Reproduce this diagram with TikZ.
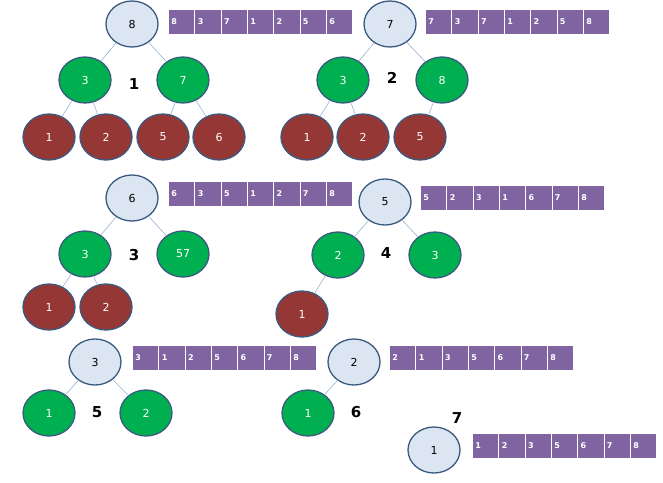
\documentclass[tikz,border=0pt]{standalone}
\usepackage{fontspec}
\setmainfont{DejaVu Sans}
\usetikzlibrary{shapes.geometric}
\begin{document}
\begin{tikzpicture}[x=1pt,y=-1pt,
 nd/.style={ellipse,draw=bd,line width=1.3pt,minimum width=52pt,minimum height=46pt,inner sep=0pt,font=\fontsize{11}{12}\selectfont},
 rt/.style={nd,fill=lt,text=black},
 gr/.style={nd,fill=gn,text=white},
 rd/.style={nd,fill=rdc,text=white},
 ed/.style={draw=edc,line width=0.6pt},
 lab/.style={font=\bfseries\fontsize{15}{16}\selectfont},
 cell/.style={draw=white,line width=0.6pt,fill=pp,minimum width=26.3pt,minimum height=25pt,inner sep=0pt,anchor=north west,text=white,font=\bfseries\fontsize{8}{9}\selectfont,align=left,text width=20pt}]
\definecolor{bd}{HTML}{3A5A80}\definecolor{lt}{HTML}{DCE6F2}
\definecolor{gn}{HTML}{00B050}\definecolor{rdc}{HTML}{953735}
\definecolor{edc}{HTML}{95B3D7}\definecolor{pp}{HTML}{8064A2}
\useasboundingbox (0,0) rectangle (663,482);
\newcommand{\arr}[4]{\foreach \v [count=\i from 0] in {#4} {\node[cell] (#1c\i) at (#2+\i*26.3,#3) {\v};}}
% tree 1
\node[rt] (a) at (132,24) {8};
\node[gr] (b) at (85,80) {3};\node[gr] (c) at (183,80) {7};
\node[rd] (d) at (49,137) {1};\node[rd] (e) at (106,137) {2};
\node[rd] (f) at (163,137) {5};\node[rd] (g) at (219,137) {6};
\draw[ed] (a)--(b) (a)--(c) (b)--(d) (b)--(e) (c)--(f) (c)--(g);
\node[lab] (l1) at (134,84) {1};
\arr{A}{168}{9}{8,3,7,1,2,5,6}
% tree 2
\node[rt] (a2) at (390,24) {7};
\node[gr] (b2) at (343,80) {3};\node[gr] (c2) at (442,80) {8};
\node[rd] (d2) at (307,137) {1};\node[rd] (e2) at (363,137) {2};\node[rd] (f2) at (420,137) {5};
\draw[ed] (a2)--(b2) (a2)--(c2) (b2)--(d2) (b2)--(e2) (c2)--(f2);
\node[lab] (l2) at (392,78) {2};
\arr{B}{425}{9}{7,3,7,1,2,5,8}
% tree 3
\node[rt] (a3) at (132,198) {6};
\node[gr] (b3) at (85,254) {3};\node[gr] (c3) at (183,254) {57};
\node[rd] (d3) at (49,307) {1};\node[rd] (e3) at (106,307) {2};
\draw[ed] (a3)--(b3) (a3)--(c3) (b3)--(d3) (b3)--(e3);
\node[lab] (l3) at (134,255) {3};
\arr{C}{168}{181}{6,3,5,1,2,7,8}
% tree 4
\node[rt] (a4) at (385,202) {5};
\node[gr] (b4) at (338,255) {2};\node[gr] (c4) at (435,255) {3};
\node[rd] (d4) at (302,314) {1};
\draw[ed] (a4)--(b4) (a4)--(c4) (b4)--(d4);
\node[lab] (l4) at (386,253) {4};
\arr{D}{420}{185}{5,2,3,1,6,7,8}
% tree 5
\node[rt] (a5) at (95,362) {3};
\node[gr] (b5) at (49,413) {1};\node[gr] (c5) at (146,413) {2};
\draw[ed] (a5)--(b5) (a5)--(c5);
\node[lab] (l5) at (97,412) {5};
\arr{E}{132}{345}{3,1,2,5,6,7,8}
% tree 6
\node[rt] (a6) at (354,362) {2};
\node[gr] (b6) at (308,413) {1};
\draw[ed] (a6)--(b6);
\node[lab] (l6) at (356,412) {6};
\arr{F}{389}{345}{2,1,3,5,6,7,8}
% tree 7
\node[rt] (a7) at (434,450) {1};
\node[lab] (l7) at (457,418) {7};
\arr{G}{472}{433}{1,2,3,5,6,7,8}
\end{tikzpicture}
\end{document}
